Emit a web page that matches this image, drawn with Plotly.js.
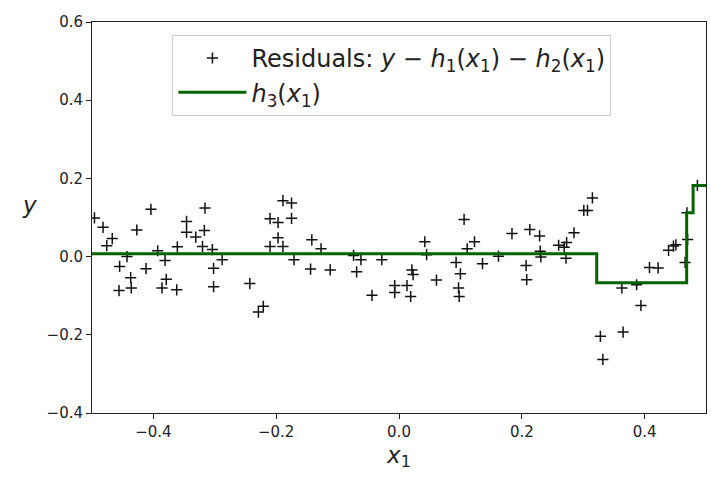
<!DOCTYPE html>
<html>
<head>
<meta charset="utf-8">
<script src="https://cdn.plot.ly/plotly-3.0.1.min.js"></script>
<style>html,body{margin:0;padding:0;background:#fff;}</style>
</head>
<body>
<div id="chart" style="width:711px;height:483px;"></div>
<script>
const residX = [-0.496,-0.482,-0.476,-0.467,-0.443,-0.455,-0.456,-0.437,-0.436,-0.427,-0.412,-0.404,-0.393,-0.381,-0.386,-0.379,-0.362,-0.361,-0.346,-0.346,-0.331,-0.316,-0.317,-0.320,-0.304,-0.302,-0.302,-0.288,-0.243,-0.229,-0.221,-0.210,-0.197,-0.197,-0.210,-0.189,-0.189,-0.175,-0.175,-0.171,-0.142,-0.144,-0.127,-0.112,-0.074,-0.069,-0.062,-0.028,-0.044,-0.007,-0.007,0.013,0.019,0.021,0.023,0.042,0.045,0.061,0.093,0.097,0.098,0.100,0.106,0.111,0.123,0.136,0.162,0.184,0.207,0.208,0.213,0.229,0.230,0.231,0.260,0.269,0.272,0.273,0.285,0.301,0.307,0.315,0.328,0.332,0.363,0.365,0.387,0.394,0.408,0.422,0.439,0.447,0.451,0.466,0.470,0.469,0.486];
const residY = [0.099,0.075,0.028,0.046,0.000,-0.025,-0.087,-0.054,-0.080,0.068,-0.031,0.121,0.015,-0.010,-0.080,-0.058,-0.085,0.025,0.090,0.062,0.050,0.124,0.067,0.026,0.018,-0.030,-0.077,-0.008,-0.069,-0.142,-0.127,0.097,0.087,0.048,0.026,0.026,0.143,0.137,0.098,-0.008,0.043,-0.032,0.020,-0.034,0.003,-0.039,-0.008,-0.008,-0.099,-0.074,-0.092,-0.074,-0.102,-0.034,-0.046,0.038,0.005,-0.060,-0.015,-0.080,-0.102,-0.044,0.095,0.020,0.038,-0.018,0.001,0.059,-0.023,-0.059,0.069,0.053,0.014,-0.001,0.029,0.024,-0.004,0.036,0.061,0.118,0.118,0.150,-0.204,-0.263,-0.080,-0.193,-0.072,-0.125,-0.028,-0.029,0.016,0.027,0.030,-0.015,0.044,0.112,0.182];
const h3X = [-0.5, 0.322, 0.4685, 0.479, 0.5];
const h3Y = [0.007, -0.067, 0.112, 0.182, 0.182];
const xTicks = [-0.4, -0.2, 0.0, 0.2, 0.4];
const yTicks = [-0.4, -0.2, 0.0, 0.2, 0.4, 0.6];

const FONT = 'DejaVu Sans, sans-serif';

const traces = [
  {
    x: residX, y: residY, type: 'scatter', mode: 'markers',
    name: 'Residuals: <i>y</i> − <i>h</i><sub>1</sub>(<i>x</i><sub>1</sub>) − <i>h</i><sub>2</sub>(<i>x</i><sub>1</sub>)',
    marker: {symbol: 'cross-thin-open', size: 8, color: '#111', line: {color: '#111', width: 1.5}}
  },
  {
    x: h3X, y: h3Y, type: 'scatter', mode: 'lines',
    name: '<i>h</i><sub>3</sub>(<i>x</i><sub>1</sub>)',
    line: {shape: 'hv', color: '#006400', width: 3}
  }
];

const axisCommon = {
  showline: true, mirror: true, linecolor: '#222', linewidth: 1,
  ticks: 'outside', ticklen: 5, tickwidth: 1, tickcolor: '#222',
  showgrid: false, zeroline: false,
  tickfont: {family: FONT, size: 15, color: '#222'},
  tickformat: '.1f'
};

const layout = {
  width: 711, height: 483,
  margin: {l: 92, r: 5, t: 22, b: 70},
  paper_bgcolor: '#fff', plot_bgcolor: '#fff',
  font: {family: FONT, color: '#222'},
  xaxis: Object.assign({}, axisCommon, {
    range: [-0.5, 0.5], tickvals: xTicks,
    title: {text: '<i>x</i><sub>1</sub>', font: {family: FONT, size: 23, color: '#222'}, standoff: 6}
  }),
  yaxis: Object.assign({}, axisCommon, {
    range: [-0.4, 0.6], tickvals: yTicks
  }),
  showlegend: true,
  legend: {
    x: 0.131, y: 0.967, xanchor: 'left', yanchor: 'top',
    bgcolor: 'rgba(255,255,255,0.8)', bordercolor: '#ccc', borderwidth: 1,
    font: {family: FONT, size: 24, color: '#222'},
    itemwidth: 68,
    tracegroupgap: 0
  },
  annotations: [
    {text: '<i>y</i>', xref: 'paper', yref: 'paper', x: -0.117, y: 0.532,
     showarrow: false, font: {family: FONT, size: 23, color: '#222'}}
  ]
};

Plotly.newPlot('chart', traces, layout, {displayModeBar: false, staticPlot: true});
</script>
</body>
</html>
